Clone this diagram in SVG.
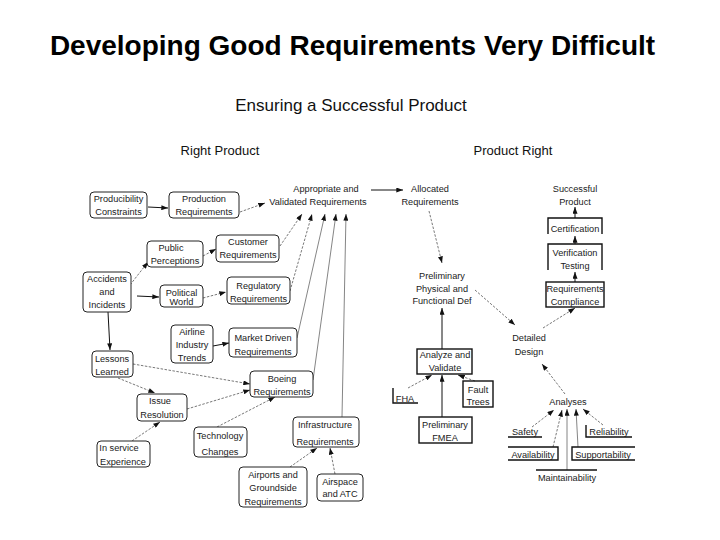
<svg xmlns="http://www.w3.org/2000/svg" width="720" height="540" viewBox="0 0 720 540">
<style>
.t{font-family:"Liberation Sans",Arial,sans-serif;font-size:9.2px;text-anchor:middle;fill:#1a1a1a}
.b{fill:#fff;stroke:#222;stroke-width:1}
.k{fill:none;stroke:#111;stroke-width:1.4}
.d{fill:none;stroke:#555;stroke-width:0.8;stroke-dasharray:2.5 1.5;marker-end:url(#a)}
.g{fill:none;stroke:#666;stroke-width:0.8;marker-end:url(#a)}
.s{fill:none;stroke:#111;stroke-width:1;marker-end:url(#a)}
</style>
<defs>
<marker id="a" viewBox="0 0 8 6" refX="8" refY="3" markerWidth="7" markerHeight="5" orient="auto" markerUnits="userSpaceOnUse"><path d="M0,0 L8,3 L0,6 z" fill="#111"/></marker>
</defs>
<rect width="720" height="540" fill="#fff"/>
<text x="352.5" y="55" font-family="Liberation Sans,Arial,sans-serif" font-weight="bold" font-size="28" text-anchor="middle" fill="#000">Developing Good Requirements Very Difficult</text>
<text x="351" y="111" font-family="Liberation Sans,Arial,sans-serif" font-size="17" text-anchor="middle" fill="#111">Ensuring a Successful Product</text>
<text x="220" y="155" font-family="Liberation Sans,Arial,sans-serif" font-size="13" text-anchor="middle" fill="#111">Right Product</text>
<text x="513" y="155" font-family="Liberation Sans,Arial,sans-serif" font-size="13" text-anchor="middle" fill="#111">Product Right</text>

<g id="connectors">
<line class="s" x1="148" y1="207" x2="168" y2="208"/>
<line class="d" x1="240" y1="212" x2="265" y2="203"/>
<line class="s" x1="371" y1="190" x2="403" y2="190"/>
<line class="d" x1="429" y1="211" x2="442" y2="263"/>
<line class="d" x1="475" y1="290" x2="515" y2="325"/>
<line class="s" x1="442" y1="349" x2="442" y2="308"/>
<line class="d" x1="408" y1="388" x2="432" y2="375"/>
<line class="d" x1="475" y1="381" x2="458" y2="375"/>
<line class="s" x1="442" y1="417" x2="442" y2="375"/>
<line class="s" x1="575" y1="218" x2="575" y2="207"/>
<line class="s" x1="575" y1="244" x2="575" y2="236"/>
<line class="s" x1="575" y1="282" x2="575" y2="272"/>
<line class="d" x1="543" y1="328" x2="575" y2="308"/>
<line class="d" x1="565" y1="394" x2="542" y2="364"/>
<line class="d" x1="532" y1="427" x2="554" y2="410"/>
<line class="d" x1="553" y1="447" x2="562" y2="410"/>
<line class="g" x1="567" y1="470" x2="567" y2="409"/>
<line class="g" x1="578" y1="447" x2="576" y2="409"/>
<line class="d" x1="603" y1="425" x2="583" y2="409"/>
<line class="d" x1="130" y1="285" x2="148" y2="262"/>
<line class="s" x1="137" y1="296" x2="159" y2="297"/>
<line class="d" x1="203" y1="256" x2="216" y2="249"/>
<line class="d" x1="203" y1="298" x2="226" y2="292"/>
<line class="d" x1="280" y1="246" x2="302" y2="214"/>
<line class="d" x1="290" y1="291" x2="312" y2="214"/>
<line class="g" x1="297" y1="338" x2="325" y2="214"/>
<line class="g" x1="313" y1="380" x2="336" y2="214"/>
<line class="g" x1="342" y1="417" x2="346" y2="214"/>
<line class="s" x1="108" y1="312" x2="110" y2="350"/>
<line class="s" x1="213" y1="346" x2="229" y2="343"/>
<line class="d" x1="133" y1="364" x2="250" y2="384"/>
<line class="d" x1="118" y1="378" x2="155" y2="393"/>
<line class="d" x1="187" y1="409" x2="250" y2="390"/>
<line class="d" x1="132" y1="441" x2="160" y2="422"/>
<line class="d" x1="217" y1="427" x2="275" y2="397"/>
<line class="d" x1="290" y1="467" x2="317" y2="448"/>
<line class="d" x1="335" y1="474" x2="330" y2="448"/>
</g>

<g id="producibility"><rect class="b" x="90" y="192" width="57" height="26" rx="4"/><text class="t" x="118.5" y="201.5">Producibility</text><text class="t" x="118.5" y="215">Constraints</text></g>
<g id="production"><rect class="b" x="169" y="192" width="70" height="26" rx="4"/><text class="t" x="204" y="201.5">Production</text><text class="t" x="204" y="215">Requirements</text></g>
<g id="public"><rect class="b" x="147" y="241" width="56" height="26" rx="4"/><text class="t" x="171" y="251">Public</text><text class="t" x="175" y="264">Perceptions</text></g>
<g id="customer"><rect class="b" x="216" y="235" width="63" height="27" rx="4"/><text class="t" x="248" y="245">Customer</text><text class="t" x="248" y="258">Requirements</text></g>
<g id="accidents"><rect class="b" x="83" y="272" width="48" height="40" rx="4"/><text class="t" x="107" y="281.5">Accidents</text><text class="t" x="107" y="295">and</text><text class="t" x="107" y="308">Incidents</text></g>
<g id="political"><rect class="b" x="160" y="285" width="43" height="22" rx="4"/><text class="t" x="181.5" y="295.5">Political</text><text class="t" x="181.5" y="305">World</text></g>
<g id="regulatory"><rect class="b" x="227" y="277" width="63" height="27" rx="4"/><text class="t" x="258.5" y="288.5">Regulatory</text><text class="t" x="258.5" y="301.5">Requirements</text></g>
<g id="airline"><rect class="b" x="171" y="325" width="42" height="38" rx="4"/><text class="t" x="192" y="334.5">Airline</text><text class="t" x="192" y="347.5">Industry</text><text class="t" x="192" y="361">Trends</text></g>
<g id="market"><rect class="b" x="229" y="328" width="68" height="29" rx="4"/><text class="t" x="263" y="340.5">Market  Driven</text><text class="t" x="263" y="355">Requirements</text></g>
<g id="lessons"><rect class="b" x="92" y="351" width="41" height="26" rx="4"/><text class="t" x="112" y="361.5">Lessons</text><text class="t" x="112" y="374.5">Learned</text></g>
<g id="boeing"><rect class="b" x="250" y="371" width="63" height="26" rx="4"/><text class="t" x="282" y="381.5">Boeing</text><text class="t" x="282" y="395">Requirements</text></g>
<g id="issue"><rect class="b" x="137" y="394" width="50" height="27" rx="4"/><text class="t" x="160" y="403.5">Issue</text><text class="t" x="162" y="417.5">Resolution</text></g>
<g id="inservice"><rect class="b" x="97" y="441" width="53" height="26" rx="4"/><text class="t" x="119" y="450.5">In service</text><text class="t" x="123" y="464.5">Experience</text></g>
<g id="technology"><rect class="b" x="194" y="427" width="53" height="30" rx="4"/><text class="t" x="220" y="438.5">Technology</text><text class="t" x="220" y="454.5">Changes</text></g>
<g id="infrastructure"><rect class="b" x="293" y="417" width="66" height="30" rx="4"/><text class="t" x="325" y="427.5">Infrastructure</text><text class="t" x="325" y="444.5">Requirements</text></g>
<g id="airports"><rect class="b" x="239" y="467" width="68" height="40" rx="4"/><text class="t" x="273" y="477.5">Airports and</text><text class="t" x="273" y="491">Groundside</text><text class="t" x="273" y="504.5">Requirements</text></g>
<g id="airspace"><rect class="b" x="317" y="474" width="46" height="27" rx="4"/><text class="t" x="340" y="484.5">Airspace</text><text class="t" x="340" y="497">and ATC</text></g>

<g id="appropriate"><text class="t" x="326" y="191.5">Appropriate and</text><text class="t" x="318" y="205">Validated Requirements</text></g>
<g id="allocated"><text class="t" x="430" y="191.5">Allocated</text><text class="t" x="430" y="205">Requirements</text></g>
<g id="preliminary"><text class="t" x="442" y="278.5">Preliminary</text><text class="t" x="442" y="291.5">Physical and</text><text class="t" x="442" y="304">Functional Def</text></g>
<g id="detailed"><text class="t" x="529" y="341">Detailed</text><text class="t" x="529" y="355">Design</text></g>
<g id="successful"><text class="t" x="575" y="192">Successful</text><text class="t" x="575" y="205">Product</text></g>
<g id="certification"><path class="k" d="M548,234 V218 H602 V234"/><text class="t" x="575" y="232">Certification</text></g>
<g id="verification"><path class="k" d="M548,270 V244 H602 V270"/><text class="t" x="575" y="255.5">Verification</text><text class="t" x="575" y="268.5">Testing</text></g>
<g id="compliance"><rect class="k" x="546" y="282" width="58" height="25"/><text class="t" x="575" y="291.5">Requirements</text><text class="t" x="575" y="304.5">Compliance</text></g>
<g id="analyze"><rect class="k" x="417" y="349" width="55" height="25"/><text class="t" x="445" y="357.5">Analyze and</text><text class="t" x="445" y="371">Validate</text></g>
<g id="fha"><path class="k" d="M393,388 V403 H418"/><text class="t" x="405" y="401.5">FHA</text></g>
<g id="fault"><rect class="k" x="463" y="381" width="30" height="26"/><text class="t" x="478" y="392.5">Fault</text><text class="t" x="478" y="404.5">Trees</text></g>
<g id="fmea"><rect class="k" x="419" y="417" width="53" height="26"/><text class="t" x="445" y="427.5">Preliminary</text><text class="t" x="445" y="440.5">FMEA</text></g>
<g id="analyses"><text class="t" x="568" y="404.5">Analyses</text></g>
<g id="safety"><path class="k" d="M508,437 H542"/><text class="t" x="525" y="434.5">Safety</text></g>
<g id="reliability"><path class="k" d="M586,425 V437 H632"/><text class="t" x="609" y="434.5">Reliability</text></g>
<g id="availability"><path class="k" d="M508,447 H558 V460 H508"/><text class="t" x="533" y="458">Availability</text></g>
<g id="supportability"><path class="k" d="M635,447 H572 V460 H635"/><text class="t" x="603" y="458">Supportability</text></g>
<g id="maintainability"><path class="k" d="M536,470 H597"/><text class="t" x="567" y="481">Maintainability</text></g>
</svg>
